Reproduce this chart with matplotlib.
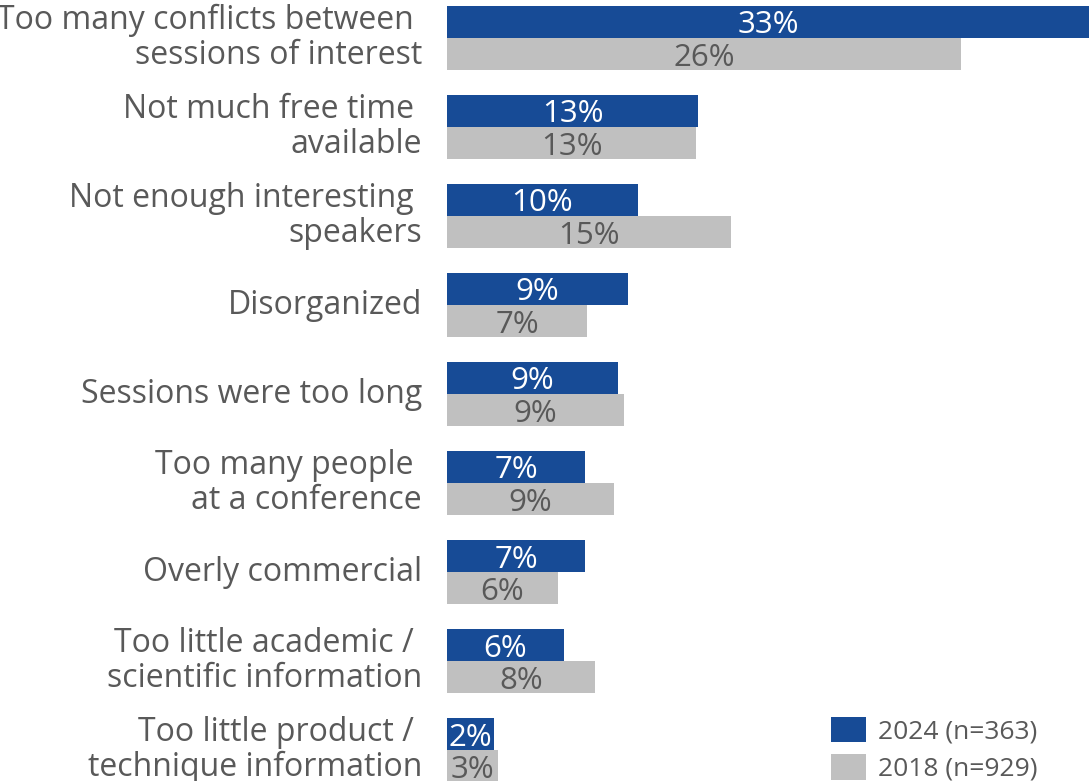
import matplotlib
matplotlib.use("Agg")
import matplotlib.pyplot as plt
import numpy as np

plt.rcParams["font.family"] = ["Open Sans", "DejaVu Sans"]

categories = [
    "Too many conflicts between \nsessions of interest",
    "Not much free time \navailable",
    "Not enough interesting \nspeakers",
    "Disorganized",
    "Sessions were too long",
    "Too many people \nat a conference",
    "Overly commercial",
    "Too little academic / \nscientific information",
    "Too little product / \ntechnique information",
]
share_2024 = [33.0, 12.9, 9.8, 9.3, 8.8, 7.1, 7.1, 6.0, 2.4]
share_2018 = [26.4, 12.8, 14.6, 7.2, 9.1, 8.6, 5.7, 7.6, 2.6]
series_labels = ["2024 (n=363)", "2018 (n=929)"]

BLUE = "#174b96"
GREY = "#c0c0c0"
TEXT = "#595959"

W, H = 1089, 781
fig = plt.figure(figsize=(W / 100, H / 100), dpi=100)
x0 = 447 / W
ax = fig.add_axes([x0, 0, 1 - x0, 1])

y = np.arange(len(categories))
bh = 0.36
b1 = ax.barh(y - bh / 2, share_2024, height=bh, color=BLUE, label=series_labels[0])
b2 = ax.barh(y + bh / 2, share_2018, height=bh, color=GREY, label=series_labels[1])

for yy, v in zip(y - bh / 2, share_2024):
    ax.text(v / 2, yy, f"{v:.0f}%", ha="center", va="center_baseline",
            color="white", fontsize=22.5)
for yy, v in zip(y + bh / 2, share_2018):
    ax.text(v / 2, yy, f"{v:.0f}%", ha="center", va="center_baseline",
            color=TEXT, fontsize=22.5)

for yy, name in zip(y, categories):
    ax.text(-25 / (W - 447) * 33.0, yy, name, ha="right", va="center",
            color=TEXT, fontsize=23, linespacing=1.08, clip_on=False)

ax.set_xlim(0, 33.0)
ax.set_ylim(8.348, -0.427)
ax.axis("off")

leg = ax.legend(handles=[b1, b2], loc="lower left",
                bbox_to_anchor=(831 / W, -1 / H), bbox_transform=fig.transFigure,
                frameon=False, fontsize=19, handlelength=1.33, handleheight=1.1,
                labelspacing=0.38, handletextpad=0.45, borderpad=0.0,
                borderaxespad=0.0)
for t in leg.get_texts():
    t.set_color(TEXT)

fig.savefig("out.png", dpi=100)
